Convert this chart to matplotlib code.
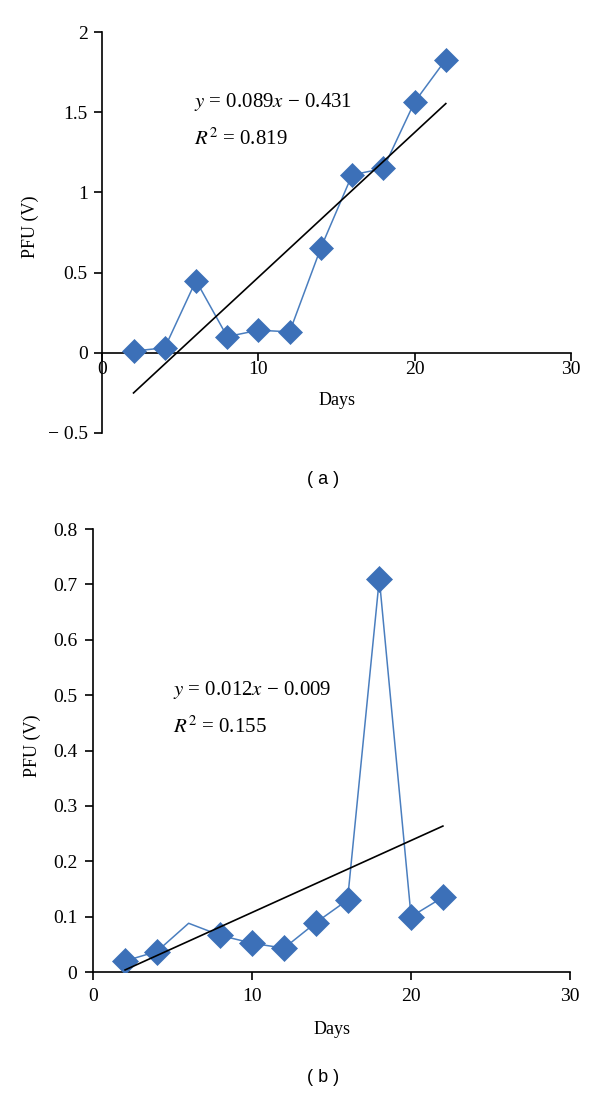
import matplotlib
matplotlib.use("Agg")
import matplotlib.pyplot as plt
import numpy as np

plt.rcParams["font.family"] = ["Liberation Serif", "DejaVu Serif"]
plt.rcParams["mathtext.fontset"] = "stix"

# Data
days = [2, 4, 6, 8, 10, 12, 14, 16, 18, 20, 22]
pfu_a = [0.01, 0.03, 0.45, 0.10, 0.14, 0.13, 0.655, 1.11, 1.15, 1.565, 1.83]
pfu_b = [0.02, 0.037, 0.088, 0.066, 0.052, 0.043, 0.089, 0.13, 0.71, 0.10, 0.135]
# day 6 in panel (b) has no marker drawn
marker_days_b = [2, 4, 8, 10, 12, 14, 16, 18, 20, 22]

eq_a = ["$y$ = 0.089$x$ \u2212 0.431", "$R^2$ = 0.819"]
eq_b = ["$y$ = 0.012$x$ \u2212 0.009", "$R^2$ = 0.155"]

yticks_a = [-0.5, 0, 0.5, 1, 1.5, 2]
yticklabels_a = ["\u2212 0.5", "0", "0.5", "1", "1.5", "2"]
yticks_b = [0, 0.1, 0.2, 0.3, 0.4, 0.5, 0.6, 0.7, 0.8]
yticklabels_b = ["0", "0.1", "0.2", "0.3", "0.4", "0.5", "0.6", "0.7", "0.8"]
xticks = [0, 10, 20, 30]

BLUE_LINE = "#4A7EBF"
BLUE_MARK = "#3C70B8"
FS = 13
FS_TICK = 14
FS_EQ = 15


def style_axes(ax, ylim, yticks, yticklabels, xpad, ypad):
    ax.set_xlim(0, 30)
    ax.set_ylim(*ylim)
    for s in ["top", "right"]:
        ax.spines[s].set_visible(False)
    ax.spines["bottom"].set_position(("data", 0))
    for s in ["left", "bottom"]:
        ax.spines[s].set_linewidth(1.2)
    ax.set_xticks(xticks)
    ax.set_xticklabels([str(t) for t in xticks])
    ax.set_yticks(yticks)
    ax.set_yticklabels(yticklabels)
    ax.tick_params(axis="both", direction="out", length=5.5, width=1.2,
                   labelsize=FS_TICK)
    ax.tick_params(axis="x", pad=xpad)
    ax.tick_params(axis="y", pad=ypad)
    ax.patch.set_alpha(0)


def draw_panel(ax, y, mdays, msize):
    x = np.array(days)
    yv = np.array(y)
    ax.plot(x, yv, color=BLUE_LINE, lw=1.1, zorder=2)
    mask = np.isin(x, mdays)
    ax.plot(x[mask], yv[mask], ls="none", marker="D", ms=msize,
            color=BLUE_MARK, mec=BLUE_MARK, mew=0.5, zorder=3)
    k, b = np.polyfit(x, yv, 1)
    ax.plot([x[0], x[-1]], [k * x[0] + b, k * x[-1] + b],
            color="black", lw=1.2, zorder=4)


fig = plt.figure(figsize=(6, 10.93), dpi=100)

# panel (a)
ax1 = fig.add_axes([0.1705, 0.6041, 0.7807, 0.3663])
draw_panel(ax1, pfu_a, days, 12)
style_axes(ax1, (-0.5, 2), yticks_a, yticklabels_a, xpad=0.5, ypad=5)
ax1.text(5.9, 1.563, eq_a[0], fontsize=FS_EQ, va="center", ha="left")
ax1.text(5.9, 1.335, eq_a[1], fontsize=FS_EQ, va="center", ha="left")
fig.text(336.7 / 600, 1 - 400.7 / 1093, "Days", fontsize=FS,
         ha="center", va="center")
fig.text(30.7 / 600, 1 - 227 / 1093, "PFU (V)", fontsize=FS,
         ha="center", va="center", rotation=90)
fig.text(322.7 / 600, 1 - 479 / 1093, "( a )", fontsize=FS,
         ha="center", va="center", family="Liberation Sans")

# panel (b)
ax2 = fig.add_axes([0.1555, 0.1107, 0.7945, 0.4053])
draw_panel(ax2, pfu_b, marker_days_b, 13)
style_axes(ax2, (0, 0.8), yticks_b, yticklabels_b, xpad=6, ypad=6)
ax2.text(5.0, 0.509, eq_b[0], fontsize=FS_EQ, va="center", ha="left")
ax2.text(5.0, 0.443, eq_b[1], fontsize=FS_EQ, va="center", ha="left")
fig.text(331.7 / 600, 1 - 1029 / 1093, "Days", fontsize=FS,
         ha="center", va="center")
fig.text(32 / 600, 1 - 746 / 1093, "PFU (V)", fontsize=FS,
         ha="center", va="center", rotation=90)
fig.text(322.7 / 600, 1 - 1078 / 1093, "( b )", fontsize=FS,
         ha="center", va="center", family="Liberation Sans")

fig.savefig("out.png", dpi=100, facecolor="white")
plt.close(fig)
